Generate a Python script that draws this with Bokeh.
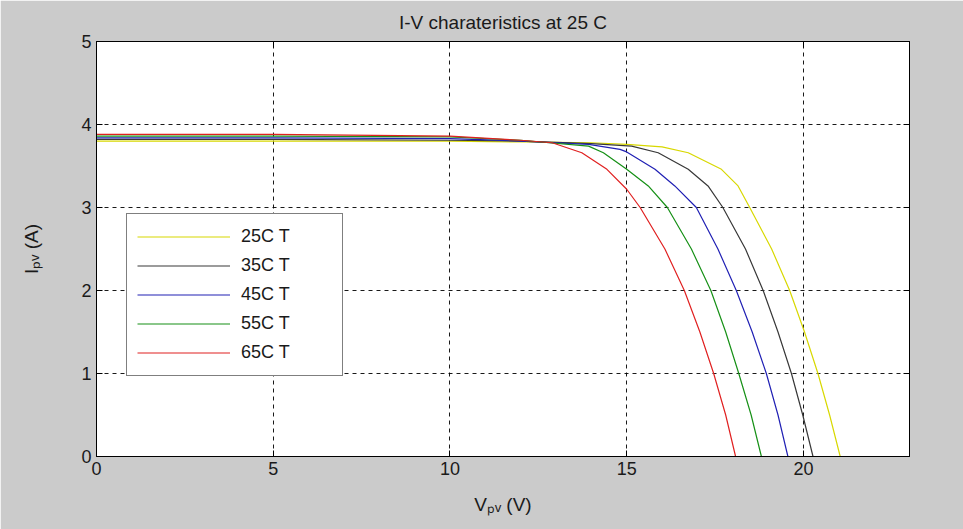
from bokeh.plotting import figure
from bokeh.models import Range1d, LinearAxis, FixedTicker, Legend, LegendItem
from bokeh.embed import file_html
from bokeh.resources import INLINE

# ---- data ----
series_names = ["25C T", "35C T", "45C T", "55C T", "65C T"]
series_colors = ["#d8d800", "#383838", "#2020b4", "#169016", "#e02020"]

V_25 = [0, 5, 10, 12, 14, 15, 16.0, 16.74, 17.68, 18.15, 18.48, 19.10, 19.61, 20.03, 20.41, 20.74, 21.04]
I_25 = [3.80, 3.80, 3.80, 3.79, 3.78, 3.76, 3.73, 3.66, 3.46, 3.26, 3.00, 2.50, 2.00, 1.50, 1.00, 0.50, 0.0]

V_35 = [0, 5, 10, 12, 14, 15.14, 15.89, 16.74, 17.30, 17.72, 18.36, 18.86, 19.28, 19.66, 19.98, 20.27]
I_35 = [3.82, 3.82, 3.81, 3.80, 3.77, 3.74, 3.66, 3.46, 3.26, 3.00, 2.50, 2.00, 1.50, 1.00, 0.50, 0.0]

V_45 = [0, 5, 10, 12, 13.92, 14.81, 15.0, 15.80, 16.36, 16.97, 17.58, 18.10, 18.55, 18.95, 19.28, 19.56]
I_45 = [3.84, 3.84, 3.83, 3.80, 3.76, 3.70, 3.67, 3.46, 3.26, 3.00, 2.50, 2.00, 1.50, 1.00, 0.50, 0.0]

V_55 = [0, 5, 10, 12, 13.92, 14.34, 15.0, 15.61, 16.15, 16.83, 17.38, 17.80, 18.17, 18.52, 18.81]
I_55 = [3.86, 3.86, 3.85, 3.81, 3.74, 3.66, 3.46, 3.26, 3.00, 2.50, 2.00, 1.50, 1.00, 0.50, 0.0]

V_65 = [0, 5, 10, 12, 12.89, 13.73, 14.44, 15.0, 15.38, 16.08, 16.63, 17.07, 17.46, 17.80, 18.08]
I_65 = [3.88, 3.88, 3.86, 3.81, 3.78, 3.66, 3.46, 3.22, 3.00, 2.50, 2.00, 1.50, 1.00, 0.50, 0.0]

x_ticks = [0, 5, 10, 15, 20]
y_ticks = [0, 1, 2, 3, 4, 5]

title_text = "I-V charateristics at 25 C"
x_label = "V\u209a\u1d65 (V)"
y_label = "I\u209a\u1d65 (A)"

FONT = "Liberation Sans"
BG = "#cbcbcb"

p = figure(width=963, height=529, output_backend="svg", toolbar_location=None,
           x_range=Range1d(0, 23), y_range=Range1d(0, 5),
           background_fill_color="white", border_fill_color=BG,
           min_border_left=96, min_border_right=54, min_border_top=40, min_border_bottom=73)

p.title.text = title_text
p.title.align = "center"
p.title.text_font = FONT
p.title.text_font_size = "19px"
p.title.text_font_style = "normal"
p.title.text_color = "#1a1a1a"
p.title.standoff = 18

p.outline_line_color = "black"
p.outline_line_width = 1

for ax in (p.xaxis[0], p.yaxis[0]):
    ax.major_tick_in = 6
    ax.major_tick_out = 0
    ax.minor_tick_line_color = None
    ax.axis_line_color = "black"
    ax.major_tick_line_color = "black"
    ax.major_label_text_font = FONT
    ax.major_label_text_font_size = "18px"
    ax.major_label_text_color = "#1a1a1a"
    ax.major_label_standoff = 5
    ax.axis_label_text_font = FONT
    ax.axis_label_text_font_size = "19px"
    ax.axis_label_text_font_style = "normal"
    ax.axis_label_text_color = "#1a1a1a"
p.xaxis[0].ticker = FixedTicker(ticks=x_ticks)
p.yaxis[0].ticker = FixedTicker(ticks=y_ticks)
p.xaxis[0].axis_label = x_label
p.yaxis[0].axis_label = y_label
p.xaxis[0].axis_label_standoff = 16
p.yaxis[0].axis_label_standoff = 36

# top and right axes: tick marks only (MATLAB box style)
top_ax = LinearAxis(ticker=FixedTicker(ticks=x_ticks), major_tick_in=6, major_tick_out=0,
                    minor_tick_line_color=None, major_label_text_color=None,
                    major_label_standoff=0, axis_line_color="black")
right_ax = LinearAxis(ticker=FixedTicker(ticks=y_ticks), major_tick_in=6, major_tick_out=0,
                      minor_tick_line_color=None, major_label_text_color=None,
                      major_label_standoff=0, axis_line_color="black")
p.add_layout(top_ax, "above")
p.add_layout(right_ax, "right")

p.xgrid.ticker = FixedTicker(ticks=x_ticks)
p.ygrid.ticker = FixedTicker(ticks=y_ticks)
for g in (p.xgrid[0], p.ygrid[0]):
    g.grid_line_color = "black"
    g.grid_line_dash = "4 4"
    g.grid_line_width = 1
    g.grid_line_alpha = 0.9

Vs = [V_25, V_35, V_45, V_55, V_65]
Is = [I_25, I_35, I_45, I_55, I_65]
items = []
for name, col, v, i in zip(series_names, series_colors, Vs, Is):
    r = p.line(v, i, line_color=col, line_width=1.2)
    items.append(LegendItem(label=name, renderers=[r]))

legend = Legend(items=items, location=(30, 80), orientation="vertical",
                background_fill_color="white", background_fill_alpha=1,
                border_line_color="black", border_line_width=1,
                glyph_width=93, glyph_height=25, label_height=25,
                label_width=91, label_standoff=11, spacing=4, padding=10, margin=0,
                label_text_font=FONT, label_text_font_size="18px", label_text_color="#1a1a1a")
p.add_layout(legend, "center")

open("out.html", "w").write(file_html(p, INLINE))
